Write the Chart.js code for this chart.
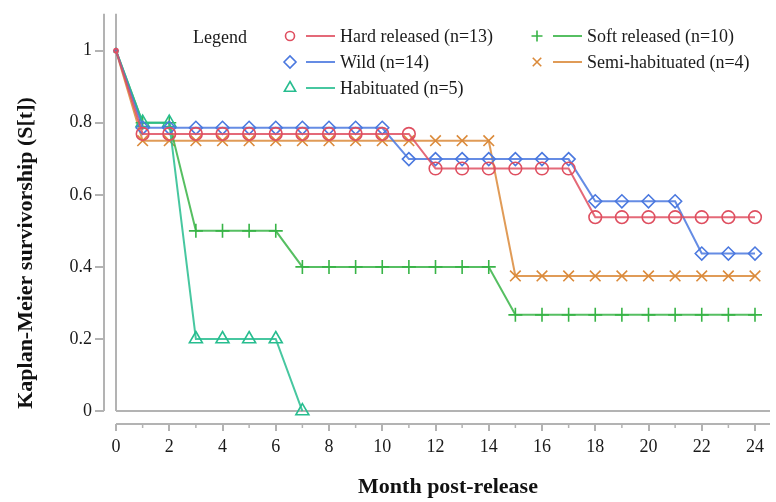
<!DOCTYPE html>
<html>
<head>
<meta charset="utf-8">
<script src="https://cdn.jsdelivr.net/npm/chart.js@4.4.1/dist/chart.umd.min.js"></script>
<style>
  html, body { margin: 0; padding: 0; background: #fff; }
  #wrap { width: 776px; height: 502px; }
</style>
</head>
<body>
<div id="wrap"><canvas id="km" width="776" height="502"></canvas></div>
<script>
// months post-release and survivorship
const months = [0, 1, 2, 3, 4, 5, 6, 7, 8, 9, 10, 11, 12, 13, 14, 15, 16, 17, 18, 19, 20, 21, 22, 23, 24]
const hardReleased = [1, 0.769, 0.769, 0.769, 0.769, 0.769, 0.769, 0.769, 0.769, 0.769, 0.769, 0.769, 0.673, 0.673, 0.673, 0.673, 0.673, 0.673, 0.538, 0.538, 0.538, 0.538, 0.538, 0.538, 0.538]
const wild = [1, 0.786, 0.786, 0.786, 0.786, 0.786, 0.786, 0.786, 0.786, 0.786, 0.786, 0.699, 0.699, 0.699, 0.699, 0.699, 0.699, 0.699, 0.582, 0.582, 0.582, 0.582, 0.437, 0.437, 0.437]
const habituated = [1, 0.8, 0.8, 0.2, 0.2, 0.2, 0.2, 0]
const softReleased = [1, 0.8, 0.8, 0.5, 0.5, 0.5, 0.5, 0.4, 0.4, 0.4, 0.4, 0.4, 0.4, 0.4, 0.4, 0.267, 0.267, 0.267, 0.267, 0.267, 0.267, 0.267, 0.267, 0.267, 0.267]
const semiHabituated = [1, 0.75, 0.75, 0.75, 0.75, 0.75, 0.75, 0.75, 0.75, 0.75, 0.75, 0.75, 0.75, 0.75, 0.75, 0.375, 0.375, 0.375, 0.375, 0.375, 0.375, 0.375, 0.375, 0.375, 0.375]

const seriesLabels = ["Hard released (n=13)", "Wild (n=14)", "Habituated (n=5)", "Soft released (n=10)", "Semi-habituated (n=4)"]
const xTicks = [0, 2, 4, 6, 8, 10, 12, 14, 16, 18, 20, 22, 24]
const xMinorTicks = [1, 3, 5, 7, 9, 11, 13, 15, 17, 19, 21, 23]
const yTicks = [0, 0.2, 0.4, 0.6, 0.8, 1]

const serif = "'Liberation Serif', 'Times New Roman', serif"
const gray = '#b3b3b3'

const toPoints = vals => vals.map((v, i) => ({x: months[i], y: v}))

function series(label, vals, color, style, radius) {
    return {
        label: label,
        data: toPoints(vals),
        borderColor: color + 'd9',
        borderWidth: 2,
        pointStyle: style,
        pointBorderColor: color,
        pointBackgroundColor: 'rgba(0,0,0,0)',
        pointBorderWidth: 1.6,
        pointRadius: c => c.dataIndex === 0 ? 2 : radius,
        pointHoverRadius: radius,
        tension: 0,
        clip: false
    }
}

// legend, axis frame and titles are drawn by hand to match the original layout
const framePlugin = {
    id: 'frame',
    beforeDatasetsDraw(chart) {
        const ctx = chart.ctx
        const xs = chart.scales.x, ys = chart.scales.y
        const area = chart.chartArea
        const x0 = xs.getPixelForValue(0), y0 = ys.getPixelForValue(0)
        const seg = (a, b, c, d) => { ctx.beginPath(); ctx.moveTo(a, b); ctx.lineTo(c, d); ctx.stroke() }
        ctx.save()
        ctx.strokeStyle = gray
        ctx.lineWidth = 2
        seg(x0, area.top, x0, y0)
        seg(x0, y0, 770, y0)
        seg(area.left, area.top, area.left, y0)
        seg(x0, area.bottom, 770, area.bottom)
        ctx.lineWidth = 1.5
        xMinorTicks.forEach(m => {
            const px = xs.getPixelForValue(m)
            seg(px, area.bottom, px, area.bottom + 4)
        })
        ctx.restore()
    },
    afterDraw(chart) {
        const ctx = chart.ctx
        ctx.save()
        ctx.fillStyle = '#111'
        ctx.font = 'bold 22px ' + serif
        ctx.textAlign = 'center'
        ctx.textBaseline = 'alphabetic'
        ctx.fillText('Month post-release', 448, 493)
        ctx.translate(32, 253)
        ctx.rotate(-Math.PI / 2)
        ctx.fillText('Kaplan-Meier survivorship (S[t])', 0, 0)
        ctx.restore()

        // legend
        ctx.save()
        ctx.font = '18px ' + serif
        ctx.fillStyle = '#1a1a1a'
        ctx.textBaseline = 'middle'
        ctx.textAlign = 'left'
        ctx.fillText('Legend', 193, 38)
        const slots = [[290, 36], [290, 62], [290, 88], [537, 36], [537, 62]]
        const sizes = {circle: 4.5, rectRot: 6, triangle: 6.5, cross: 5.5, crossRot: 6}
        chart.data.datasets.forEach((ds, i) => {
            const [mx, my] = slots[i]
            ctx.strokeStyle = ds.pointBorderColor
            ctx.fillStyle = 'rgba(0,0,0,0)'
            ctx.lineWidth = 1.6
            Chart.helpers.drawPoint(ctx, {pointStyle: ds.pointStyle, radius: sizes[ds.pointStyle], rotation: 0, borderWidth: 1.6}, mx, my)
            ctx.strokeStyle = ds.borderColor
            ctx.lineWidth = 2
            ctx.beginPath(); ctx.moveTo(mx + 16, my); ctx.lineTo(mx + 45, my); ctx.stroke()
            ctx.fillStyle = '#1a1a1a'
            ctx.fillText(ds.label, mx + 50, my + 1)
        })
        ctx.restore()
    }
}

const ctx = document.getElementById('km').getContext('2d')
new Chart(ctx, {
    type: 'line',
    data: {
        datasets: [
            series(seriesLabels[0], hardReleased, '#df4f60', 'circle', 6.3),
            series(seriesLabels[1], wild, '#4a78df', 'rectRot', 6.5),
            series(seriesLabels[2], habituated, '#27bd8f', 'triangle', 7.5),
            series(seriesLabels[3], softReleased, '#38b447', 'cross', 7),
            series(seriesLabels[4], semiHabituated, '#db8a3a', 'crossRot', 7.5)
        ]
    },
    options: {
        responsive: false,
        animation: false,
        layout: { padding: {top: 12, right: 21, bottom: 0, left: 0} },
        scales: {
            x: {
                type: 'linear',
                min: -0.451,
                max: 24,
                border: { display: false },
                grid: { drawOnChartArea: false, drawTicks: true, tickLength: 7, color: gray, lineWidth: 2 },
                ticks: { color: '#1a1a1a', padding: 5, font: {family: serif, size: 18} },
                afterBuildTicks: s => { s.ticks = xTicks.map(v => ({value: v})) },
                afterFit: s => { s.height = 78 }
            },
            y: {
                min: -0.0359,
                max: 1.1022,
                border: { display: false },
                grid: { drawOnChartArea: false, drawTicks: true, tickLength: 9, color: gray, lineWidth: 2 },
                ticks: { color: '#1a1a1a', padding: 3, font: {family: serif, size: 18},
                         callback: v => String(+v.toFixed(1)) },
                afterBuildTicks: s => { s.ticks = yTicks.map(v => ({value: v})) },
                afterFit: s => { s.width = 104 }
            }
        },
        plugins: {
            legend: { display: false },
            tooltip: { enabled: false }
        }
    },
    plugins: [framePlugin]
})
</script>
</body>
</html>
